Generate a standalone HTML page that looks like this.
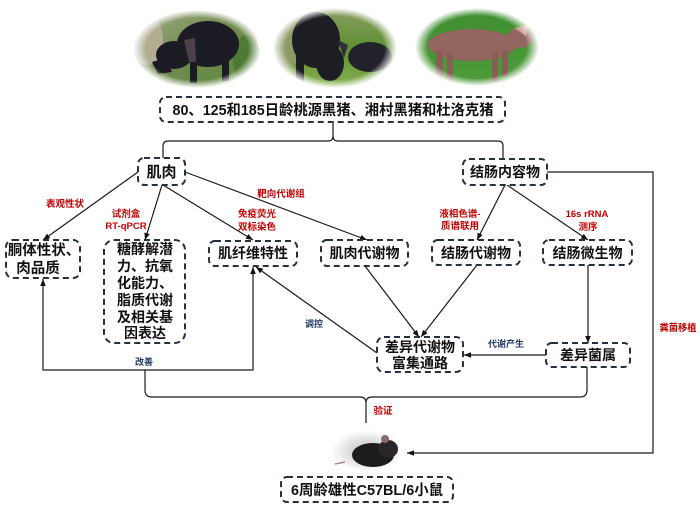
<!DOCTYPE html>
<html><head><meta charset="utf-8"><style>
html,body{margin:0;padding:0;background:#fff;}
svg{display:block;}
.bx{fill:#fff;stroke:#26303e;stroke-width:2;stroke-dasharray:6 4;}
.t{font-family:"Liberation Sans","Noto Sans CJK SC",sans-serif;font-weight:bold;fill:#111;text-anchor:middle;}
.r{font-family:"Liberation Sans","Noto Sans CJK SC",sans-serif;font-weight:bold;fill:#c00000;text-anchor:middle;font-size:9.5px;}
.n{font-family:"Liberation Sans","Noto Sans CJK SC",sans-serif;font-weight:bold;fill:#1f3864;text-anchor:middle;font-size:9px;}
.l{fill:none;stroke:#1a1a1a;stroke-width:1.2;}
</style></head><body>
<svg width="700" height="508" viewBox="0 0 700 508" xmlns="http://www.w3.org/2000/svg">
<defs>
<marker id="a" viewBox="0 0 10 10" refX="10" refY="5" markerWidth="7" markerHeight="7" orient="auto-start-reverse" markerUnits="userSpaceOnUse"><path d="M0,1 L10,5 L0,9 z" fill="#111"/></marker>
<radialGradient id="fg" cx="0.5" cy="0.5" r="0.5">
<stop offset="0.8" stop-color="#fff"/><stop offset="1" stop-color="#000"/>
</radialGradient>
<mask id="m1" maskContentUnits="objectBoundingBox"><rect x="0" y="0" width="1" height="1" fill="url(#fg)"/></mask>
<radialGradient id="mh" cx="0.5" cy="0.5" r="0.5">
<stop offset="0.4" stop-color="#d6d6da"/><stop offset="1" stop-color="#fff"/>
</radialGradient>
<linearGradient id="g1" x1="0" y1="0" x2="1" y2="1">
<stop offset="0" stop-color="#a5ad8a"/><stop offset="0.5" stop-color="#6f8a4e"/><stop offset="1" stop-color="#5f8a40"/>
</linearGradient>
<linearGradient id="g2" x1="0" y1="0" x2="0" y2="1">
<stop offset="0" stop-color="#8a9d60"/><stop offset="0.5" stop-color="#5f8f34"/><stop offset="1" stop-color="#86b050"/>
</linearGradient>
<linearGradient id="g3" x1="0" y1="0" x2="0" y2="1">
<stop offset="0" stop-color="#3f8e32"/><stop offset="1" stop-color="#4e9c3a"/>
</linearGradient>
</defs>

<!-- pig 1 -->
<g mask="url(#m1)">
<rect x="133" y="10" width="124" height="78" fill="url(#g1)"/>
<ellipse cx="148" cy="40" rx="15" ry="25" fill="#b0ad90"/>
<ellipse cx="247" cy="60" rx="14" ry="25" fill="#4f7a35"/>
<ellipse cx="208" cy="44" rx="31" ry="23" fill="#1c1a22"/>
<ellipse cx="174" cy="55" rx="18" ry="14" fill="#1c1a22"/>
<path d="M152,62 L166,58 L172,72 L158,74 Z" fill="#1c1a22"/>
<rect x="190" y="55" width="7" height="28" fill="#1c1a22"/>
<rect x="222" y="55" width="7" height="26" fill="#1c1a22"/>
<path d="M184,40 L195,38 L196,62 L189,62 Z" fill="#4a4248"/>
</g>
<!-- pig 2 -->
<g mask="url(#m1)">
<rect x="273" y="8" width="124" height="80" fill="url(#g2)"/>
<ellipse cx="288" cy="45" rx="14" ry="22" fill="#8c9a66"/>
<ellipse cx="370" cy="57" rx="22" ry="15" fill="#22222a"/>
<ellipse cx="316" cy="40" rx="24" ry="28" fill="#1d1d24"/>
<ellipse cx="330" cy="63" rx="14" ry="18" fill="#1d1d24"/>
<path d="M338,40 L348,45 L344,58 Z" fill="#2e2e36"/>
<rect x="296" y="55" width="8" height="30" fill="#1d1d24"/>
</g>
<!-- pig 3 -->
<g mask="url(#m1)">
<rect x="415" y="8" width="124" height="78" fill="url(#g3)"/>
<ellipse cx="472" cy="45" rx="44" ry="16" fill="#93665f"/>
<ellipse cx="520" cy="38" rx="13" ry="10" fill="#93665f"/>
<path d="M514,28 L528,25 L526,36 Z" fill="#c99a92"/>
<rect x="436" y="50" width="7" height="30" fill="#8a5e57"/>
<rect x="447" y="52" width="6" height="28" fill="#8a5e57"/>
<rect x="492" y="52" width="6" height="30" fill="#8a5e57"/>
<rect x="502" y="50" width="6" height="26" fill="#8a5e57"/>
</g>
<!-- mouse -->
<ellipse cx="367" cy="451" rx="36" ry="21" fill="url(#mh)"/>
<ellipse cx="373" cy="455" rx="21" ry="12" fill="#1e1b1e"/>
<ellipse cx="388" cy="449" rx="10" ry="9" fill="#2a2527"/>
<circle cx="385" cy="439" r="4" fill="#8a6a66"/>
<path d="M345,462 L335,464" stroke="#a58880" stroke-width="1.5"/>

<!-- connectors -->
<path class="l" d="M163,158 V146 Q163,141 168,141 H328 Q333,141 333,136 V122 M333,136 Q333,141 338,141 H498 Q503,141 503,146 V159"/>
<line class="l" x1="138" y1="172" x2="43" y2="240" marker-end="url(#a)"/>
<line class="l" x1="162" y1="185" x2="145" y2="240" marker-end="url(#a)"/>
<line class="l" x1="163" y1="185" x2="253" y2="240" marker-end="url(#a)"/>
<line class="l" x1="185" y1="172" x2="367" y2="240" marker-end="url(#a)"/>
<line class="l" x1="505" y1="185" x2="477" y2="240" marker-end="url(#a)"/>
<line class="l" x1="507" y1="185" x2="588" y2="240" marker-end="url(#a)"/>
<line class="l" x1="365" y1="266" x2="419" y2="337" marker-end="url(#a)"/>
<line class="l" x1="477" y1="265" x2="421" y2="337" marker-end="url(#a)"/>
<line class="l" x1="588" y1="265" x2="588" y2="343" marker-end="url(#a)"/>
<line class="l" x1="546" y1="355" x2="464" y2="355" marker-end="url(#a)"/>
<line class="l" x1="377" y1="353" x2="256" y2="267" marker-end="url(#a)"/>
<path class="l" d="M43,279 V370 H253 V267" marker-start="url(#a)" marker-end="url(#a)"/>
<path class="l" d="M145,370 V390 Q145,397 152,397 H360 Q366,397 366,403 V423 M366,403 Q366,397 372,397 H580 Q587,397 587,390 V367"/>
<path class="l" d="M547,172 H653 V453 H407" marker-end="url(#a)"/>

<!-- boxes -->
<rect class="bx" x="160" y="97" width="345" height="25" rx="6"/>
<rect class="bx" x="138" y="158" width="47" height="27" rx="6"/>
<rect class="bx" x="463" y="159" width="84" height="26" rx="6"/>
<rect class="bx" x="6" y="240" width="74" height="38" rx="7"/>
<rect class="bx" x="104" y="240" width="81" height="103" rx="10"/>
<rect class="bx" x="209" y="241" width="88" height="25" rx="6"/>
<rect class="bx" x="321" y="240" width="87" height="26" rx="6"/>
<rect class="bx" x="432" y="240" width="88" height="25" rx="6"/>
<rect class="bx" x="543" y="240" width="89" height="25" rx="6"/>
<rect class="bx" x="377" y="337" width="86" height="35" rx="7"/>
<rect class="bx" x="546" y="343" width="84" height="24" rx="6"/>
<rect class="bx" x="281" y="477" width="172" height="25" rx="6"/>

<!-- box text -->
<text class="t" x="333" y="115" font-size="14.5" textLength="321" lengthAdjust="spacingAndGlyphs">80、125和185日龄桃源黑猪、湘村黑猪和杜洛克猪</text>
<text class="t" x="161.5" y="177" font-size="15">肌肉</text>
<text class="t" x="505" y="177" font-size="14" textLength="70" lengthAdjust="spacingAndGlyphs">结肠内容物</text>
<text class="t" x="44" y="255" font-size="14.5">胴体性状、</text>
<text class="t" x="38" y="273" font-size="14.5">肉品质</text>
<text class="t" x="145" y="254" font-size="14">糖酵解潜</text>
<text class="t" x="145" y="271" font-size="14">力、抗氧</text>
<text class="t" x="145" y="288" font-size="14">化能力、</text>
<text class="t" x="145" y="305" font-size="14">脂质代谢</text>
<text class="t" x="145" y="322" font-size="14">及相关基</text>
<text class="t" x="145" y="338" font-size="14">因表达</text>
<text class="t" x="253" y="258" font-size="14">肌纤维特性</text>
<text class="t" x="364.5" y="258" font-size="14">肌肉代谢物</text>
<text class="t" x="476" y="258" font-size="14">结肠代谢物</text>
<text class="t" x="587.5" y="258" font-size="14">结肠微生物</text>
<text class="t" x="420" y="352" font-size="14">差异代谢物</text>
<text class="t" x="420" y="368" font-size="14">富集通路</text>
<text class="t" x="588" y="360" font-size="14">差异菌属</text>
<text class="t" x="367" y="495" font-size="14.5" textLength="152" lengthAdjust="spacingAndGlyphs">6周龄雄性C57BL/6小鼠</text>

<!-- labels -->
<text class="r" x="65" y="207">表观性状</text>
<text class="r" x="126" y="217">试剂盒</text>
<text class="r" x="126" y="229">RT-qPCR</text>
<text class="r" x="257" y="217">免疫荧光</text>
<text class="r" x="257" y="230">双标染色</text>
<text class="r" x="281" y="197">靶向代谢组</text>
<text class="r" x="460" y="217">液相色谱-</text>
<text class="r" x="460" y="229">质谱联用</text>
<text class="r" x="587" y="217">16s rRNA</text>
<text class="r" x="588" y="230">测序</text>
<text class="r" x="678" y="331" textLength="37" lengthAdjust="spacingAndGlyphs">粪菌移植</text>
<text class="r" x="383" y="414">验证</text>
<text class="n" x="144" y="365">改善</text>
<text class="n" x="314" y="327">调控</text>
<text class="n" x="506" y="347">代谢产生</text>
</svg>
</body></html>
